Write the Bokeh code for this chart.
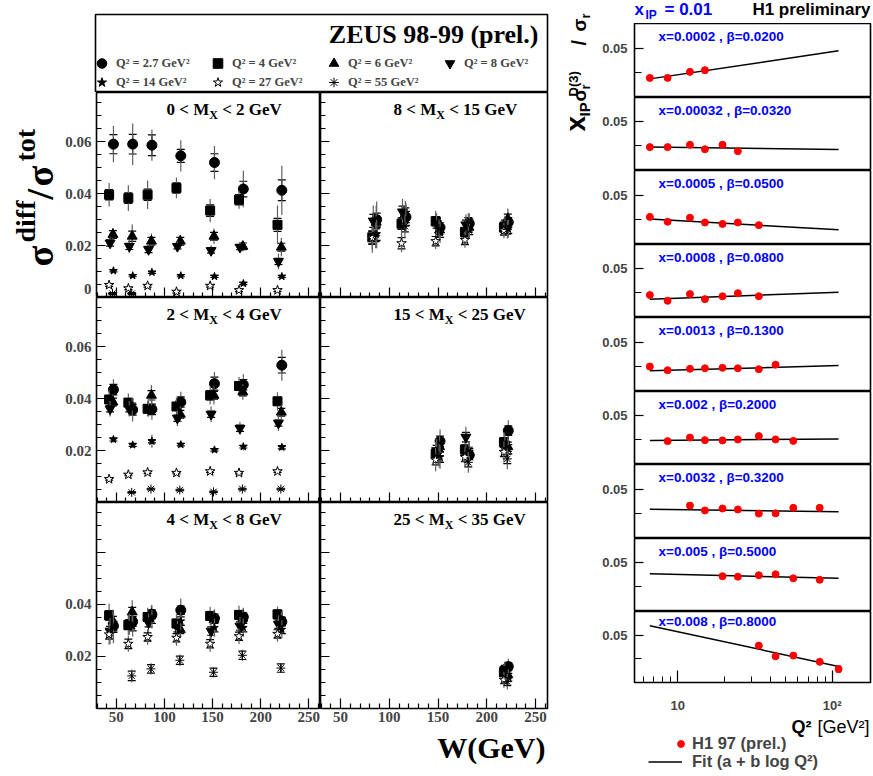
import math
from bokeh.plotting import figure
from bokeh.layouts import row, column
from bokeh.models import (ColumnDataSource, Whisker, TeeHead, Label, Legend, LegendItem,
                          FixedTicker, Range1d, LinearAxis)
from bokeh.embed import file_html
from bokeh.resources import INLINE

# ---------------- ZEUS 98-99 (prel.): sigma_diff / sigma_tot versus W ----------------
W_BINS = [45, 65, 85, 115, 150, 180, 220]                 # GeV
Q2_VALUES = ["2.7", "4", "6", "8", "14", "27", "55"]      # GeV^2
MX_RANGES = [(0, 2), (8, 15), (2, 4), (15, 25), (4, 8), (25, 35)]   # panel order

RATIO_MX_0_2 = {
    "2.7": [0.0591, 0.0591, 0.0587, 0.0546, 0.0520, 0.0418, 0.0413],
    "4":   [0.0396, 0.0383, 0.0396, 0.0422, 0.0335, 0.0377, 0.0280],
    "6":   [0.0243, 0.0236, 0.0217, 0.0217, 0.0236, 0.0197, 0.0194],
    "8":   [0.0210, 0.0197, 0.0185, 0.0197, 0.0181, 0.0194, 0.0139],
    "14":  [0.0103, 0.0084, 0.0097, 0.0084, 0.0081, 0.0054, 0.0081],
    "27":  [0.0048, 0.0035, 0.0045, 0.0022, 0.0045, 0.0028, 0.0028],
    "55":  [0.0015, 0.0015, None, None, None, None, None],
}
STAT_MX_0_2 = {
    "2.7": [0.0037, 0.0038, 0.0040, 0.0025, 0.0034, 0.0030, 0.0040],
    "4":   [0.0020, 0.0020, 0.0022, 0.0020, 0.0022, 0.0020, 0.0025],
    "6":   [0.0015, 0.0020, 0.0015, 0.0015, 0.0015, 0.0013, 0.0015],
    "8":   [0.0012, 0.0012, 0.0012, 0.0010, 0.0010, 0.0010, 0.0012],
    "14":  [0.0004, 0.0004, 0.0004, 0.0004, 0.0004, 0.0004, 0.0004],
    "27":  [0.0005, 0.0005, 0.0005, 0.0005, 0.0005, 0.0005, 0.0005],
    "55":  [0.0004, 0.0004, None, None, None, None, None],
}
TOTAL_MX_0_2 = {
    "2.7": [0.0070, 0.0080, 0.0060, 0.0060, 0.0064, 0.0070, 0.0095],
    "4":   [0.0045, 0.0050, 0.0055, 0.0040, 0.0045, 0.0035, 0.0075],
    "6":   [0.0025, 0.0045, 0.0030, 0.0025, 0.0030, 0.0020, 0.0035],
    "8":   [0.0020, 0.0025, 0.0020, 0.0020, 0.0020, 0.0020, 0.0030],
    "14":  [0.0007, 0.0007, 0.0007, 0.0007, 0.0007, 0.0007, 0.0007],
    "27":  [0.0009, 0.0009, 0.0009, 0.0009, 0.0009, 0.0009, 0.0009],
    "55":  [0.0006, 0.0006, None, None, None, None, None],
}

RATIO_MX_8_15 = {
    "2.7": [None, None, 0.0300, 0.0310, 0.0270, 0.0285, 0.0290],
    "4":   [None, None, 0.0232, 0.0284, 0.0294, 0.0252, 0.0270],
    "6":   [None, None, 0.0290, 0.0323, 0.0260, 0.0270, 0.0303],
    "8":   [None, None, 0.0295, 0.0330, 0.0285, 0.0280, 0.0280],
    "14":  [None, None, 0.0245, 0.0300, 0.0250, 0.0260, 0.0265],
    "27":  [None, None, 0.0230, 0.0209, 0.0217, 0.0222, 0.0258],
    "55":  [None, None, 0.0240, 0.0275, 0.0265, 0.0290, 0.0262],
}
STAT_MX_8_15 = {k: [None, None, 0.0025, 0.0022, 0.0018, 0.0018, 0.0018] for k in Q2_VALUES}
TOTAL_MX_8_15 = {
    "2.7": [None, None, 0.0070, 0.0055, 0.0040, 0.0040, 0.0040],
    "4":   [None, None, 0.0060, 0.0055, 0.0040, 0.0040, 0.0035],
    "6":   [None, None, 0.0065, 0.0050, 0.0040, 0.0040, 0.0040],
    "8":   [None, None, 0.0060, 0.0050, 0.0040, 0.0040, 0.0035],
    "14":  [None, None, 0.0055, 0.0050, 0.0040, 0.0035, 0.0035],
    "27":  [None, None, 0.0045, 0.0035, 0.0030, 0.0030, 0.0030],
    "55":  [None, None, 0.0050, 0.0045, 0.0035, 0.0035, 0.0035],
}

RATIO_MX_2_4 = {
    "2.7": [0.0435, 0.0357, 0.0359, 0.0387, 0.0458, 0.0454, 0.0529],
    "4":   [0.0397, 0.0385, 0.0361, 0.0370, 0.0413, 0.0449, 0.0390],
    "6":   [0.0387, 0.0368, 0.0413, 0.0340, 0.0413, 0.0426, 0.0348],
    "8":   [0.0361, 0.0361, 0.0361, 0.0325, 0.0340, 0.0286, 0.0306],
    "14":  [0.0243, 0.0222, 0.0236, 0.0223, 0.0203, 0.0215, 0.0213],
    "27":  [0.0090, 0.0107, 0.0116, 0.0114, 0.0120, 0.0114, 0.0120],
    "55":  [None, 0.0039, 0.0052, 0.0048, 0.0041, 0.0052, 0.0052],
}
STAT_MX_2_4 = {
    "2.7": [0.0020, 0.0020, 0.0020, 0.0020, 0.0025, 0.0020, 0.0030],
    "4":   [0.0015, 0.0015, 0.0015, 0.0015, 0.0018, 0.0015, 0.0015],
    "6":   [0.0015, 0.0015, 0.0018, 0.0015, 0.0015, 0.0015, 0.0015],
    "8":   [0.0012, 0.0012, 0.0012, 0.0012, 0.0012, 0.0012, 0.0012],
    "14":  [0.0006, 0.0006, 0.0006, 0.0005, 0.0005, 0.0005, 0.0006],
    "27":  [0.0004, 0.0004, 0.0004, 0.0004, 0.0004, 0.0004, 0.0004],
    "55":  [None, 0.0003, 0.0003, 0.0003, 0.0003, 0.0003, 0.0003],
}
TOTAL_MX_2_4 = {
    "2.7": [0.0040, 0.0045, 0.0040, 0.0040, 0.0045, 0.0040, 0.0060],
    "4":   [0.0035, 0.0035, 0.0030, 0.0035, 0.0035, 0.0035, 0.0035],
    "6":   [0.0030, 0.0035, 0.0040, 0.0030, 0.0035, 0.0030, 0.0030],
    "8":   [0.0030, 0.0030, 0.0030, 0.0030, 0.0030, 0.0025, 0.0030],
    "14":  [0.0012, 0.0012, 0.0025, 0.0010, 0.0010, 0.0015, 0.0012],
    "27":  [0.0008, 0.0010, 0.0010, 0.0008, 0.0008, 0.0008, 0.0008],
    "55":  [None, 0.0005, 0.0005, 0.0005, 0.0005, 0.0005, 0.0005],
}

RATIO_MX_15_25 = {
    "2.7": [None, None, None, None, 0.0236, 0.0183, 0.0277],
    "4":   [None, None, None, None, 0.0187, 0.0204, 0.0232],
    "6":   [None, None, None, None, 0.0215, 0.0195, 0.0215],
    "8":   [None, None, None, None, 0.0200, 0.0252, 0.0225],
    "14":  [None, None, None, None, 0.0175, 0.0190, 0.0205],
    "27":  [None, None, None, None, 0.0165, 0.0175, 0.0195],
    "55":  [None, None, None, None, 0.0180, 0.0155, 0.0168],
}
STAT_MX_15_25 = {k: [None, None, None, None, 0.0020, 0.0018, 0.0018] for k in Q2_VALUES}
TOTAL_MX_15_25 = {k: [None, None, None, None, 0.0045, 0.0040, 0.0040] for k in Q2_VALUES}

RATIO_MX_4_8 = {
    "2.7": [0.0316, 0.0333, 0.0361, 0.0377, 0.0346, 0.0351, 0.0333],
    "4":   [0.0357, 0.0320, 0.0351, 0.0326, 0.0355, 0.0359, 0.0361],
    "6":   [0.0335, 0.0370, 0.0361, 0.0303, 0.0342, 0.0346, 0.0335],
    "8":   [0.0297, 0.0323, 0.0329, 0.0310, 0.0297, 0.0316, 0.0323],
    "14":  [0.0310, 0.0316, 0.0342, 0.0335, 0.0310, 0.0310, 0.0303],
    "27":  [0.0284, 0.0248, 0.0274, 0.0271, 0.0248, 0.0277, 0.0286],
    "55":  [None, 0.0125, 0.0152, 0.0185, 0.0139, 0.0204, 0.0155],
}
STAT_MX_4_8 = {k: [0.0018, 0.0018, 0.0016, 0.0016, 0.0016, 0.0016, 0.0016] for k in Q2_VALUES}
TOTAL_MX_4_8 = {
    "2.7": [0.0050, 0.0040, 0.0035, 0.0045, 0.0035, 0.0035, 0.0035],
    "4":   [0.0045, 0.0040, 0.0035, 0.0035, 0.0035, 0.0035, 0.0030],
    "6":   [0.0045, 0.0045, 0.0035, 0.0035, 0.0035, 0.0035, 0.0035],
    "8":   [0.0050, 0.0040, 0.0035, 0.0035, 0.0035, 0.0035, 0.0035],
    "14":  [0.0060, 0.0040, 0.0035, 0.0035, 0.0035, 0.0035, 0.0035],
    "27":  [0.0040, 0.0030, 0.0030, 0.0030, 0.0030, 0.0030, 0.0030],
    "55":  [None, 0.0025, 0.0022, 0.0022, 0.0020, 0.0022, 0.0018],
}

RATIO_MX_25_35 = {
    "2.7": [None, None, None, None, None, None, 0.0161],
    "4":   [None, None, None, None, None, None, 0.0139],
    "6":   [None, None, None, None, None, None, 0.0129],
    "8":   [None, None, None, None, None, None, 0.0150],
    "14":  [None, None, None, None, None, None, 0.0120],
    "27":  [None, None, None, None, None, None, 0.0110],
    "55":  [None, None, None, None, None, None, 0.0103],
}
STAT_MX_25_35 = {k: [None, None, None, None, None, None, 0.0015] for k in Q2_VALUES}
TOTAL_MX_25_35 = {k: [None, None, None, None, None, None, 0.0030] for k in Q2_VALUES}

ZEUS_PANELS = [
    (RATIO_MX_0_2, STAT_MX_0_2, TOTAL_MX_0_2),
    (RATIO_MX_8_15, STAT_MX_8_15, TOTAL_MX_8_15),
    (RATIO_MX_2_4, STAT_MX_2_4, TOTAL_MX_2_4),
    (RATIO_MX_15_25, STAT_MX_15_25, TOTAL_MX_15_25),
    (RATIO_MX_4_8, STAT_MX_4_8, TOTAL_MX_4_8),
    (RATIO_MX_25_35, STAT_MX_25_35, TOTAL_MX_25_35),
]
ZEUS_W_MAJOR = [50, 100, 150, 200, 250]
ZEUS_W_MINOR = [w for w in range(30, 261, 10) if w % 50]
ZEUS_R_TOP = 0.079
ZEUS_R_MAJOR = [0, 0.02, 0.04, 0.06]
ZEUS_R_MINOR = [round(0.005 * k, 3) for k in range(1, 16) if k % 4]
# labelled positions per row (the "0" sits just inside the panel so it is not cut)
ZEUS_R_LABELS = [
    {0.0034: "0", 0.02: "0.02", 0.04: "0.04", 0.06: "0.06"},
    {0.02: "0.02", 0.04: "0.04", 0.06: "0.06"},
    {0.02: "0.02", 0.04: "0.04"},
]

# ---------------- H1 97 (prel.): x_IP sigma_r^D(3) / sigma_r at x_IP = 0.01 ----------------
H1_Q2 = [6.6, 8.6, 12, 15, 19.5, 24.5, 33.5, 43, 56, 83, 110]   # GeV^2
H1_X = ["0.0002", "0.00032", "0.0005", "0.0008", "0.0013", "0.002", "0.0032", "0.005", "0.008"]
H1_BETA = ["0.0200", "0.0320", "0.0500", "0.0800", "0.1300", "0.2000", "0.3200", "0.5000", "0.8000"]
H1_FIRST_BIN = [0, 0, 0, 0, 0, 1, 2, 4, 6]
H1_RATIO = [
    [0.0377, 0.0377, 0.0402, 0.0409],
    [0.0394, 0.0394, 0.0404, 0.0385, 0.0404, 0.0377],
    [0.0410, 0.0390, 0.0407, 0.0387, 0.0381, 0.0387, 0.0376],
    [0.0390, 0.0366, 0.0394, 0.0373, 0.0385, 0.0398, 0.0385],
    [0.0399, 0.0384, 0.0390, 0.0392, 0.0394, 0.0392, 0.0388, 0.0407],
    [0.0394, 0.0409, 0.0398, 0.0397, 0.0401, 0.0415, 0.0401, 0.0395],
    [0.0432, 0.0412, 0.0420, 0.0416, 0.0399, 0.0400, 0.0423, 0.0423],
    [0.0444, 0.0442, 0.0448, 0.0452, 0.0435, 0.0429],
    [0.0455, 0.0409, 0.0412, 0.0385, 0.0354],
]
H1_ERR = [
    [0.0005, 0.0005, 0.0008, 0.0010],
    [0.0005, 0.0005, 0.0006, 0.0004, 0.0004, 0.0008],
    [0.0008, 0.0004, 0.0007, 0.0004, 0.0004, 0.0004, 0.0007],
    [0.0004, 0.0004, 0.0006, 0.0004, 0.0004, 0.0005, 0.0004],
    [0.0010, 0.0004, 0.0005, 0.0004, 0.0004, 0.0004, 0.0004, 0.0004],
    [0.0006, 0.0008, 0.0004, 0.0004, 0.0004, 0.0005, 0.0004, 0.0004],
    [0.0011, 0.0004, 0.0005, 0.0004, 0.0004, 0.0006, 0.0005, 0.0008],
    [0.0008, 0.0005, 0.0007, 0.0008, 0.0008, 0.0008],
    [0.0009, 0.0008, 0.0008, 0.0007, 0.0013],
]
H1_FIT_Q2 = [6.6, 110]
H1_FIT_START = [0.0373, 0.0394, 0.0401, 0.0373, 0.0382, 0.0397, 0.0417, 0.0454, 0.0541]
H1_FIT_END = [0.0489, 0.0384, 0.0357, 0.0402, 0.0403, 0.0403, 0.0407, 0.0435, 0.0365]
H1_MAJOR_Q2_TICKS = [10, 100]
H1_MINOR_Q2_TICKS = [6, 7, 8, 9, 20, 30, 40, 50, 60, 70, 80, 90]

# ---------------- styling ----------------
SERIF = "Liberation Serif"
SANS = "Liberation Sans"
NAN = float("nan")
MID = 0.3375     # offset (in em) from the text's vertical middle down to its baseline
ZEUS_STYLE = {   # marker, fill, size, horizontal dodge (GeV)
    "2.7": ("circle", "black", 10, 2.0),
    "4": ("square", "black", 9, -2.5),
    "6": ("triangle", "black", 10, 1.5),
    "8": ("inverted_triangle", "black", 10, -1.5),
    "14": ("star", "black", 8, 2.0),
    "27": ("star", "white", 10, -2.5),
    "55": ("asterisk", "black", 9, 1.0),
}
TIMES_B = {' ': 250, '<': 570, 'M': 944, 'X': 722, 'G': 778, 'e': 444, 'V': 722}
ARIAL_B = {' ': 278, '[': 333, ']': 333, 'G': 778, 'e': 556, 'V': 667, '²': 333}


def tw(s, size, table):
    return sum(table.get(c, 500 if table is TIMES_B else 556) for c in s) * size / 1000.0


def label(p, x, y, text, size, font, color="black", style="bold", align="left", angle=0.0):
    """(x, y): start of the text's baseline, in px from the frame's bottom-left corner."""
    if angle:
        x -= MID * size
    else:
        y += MID * size
    p.add_layout(Label(x=x, y=y, x_units="screen", y_units="screen", text=text,
                       text_font=font, text_font_size=f"{size}px", text_font_style=style,
                       text_color=color, text_align=align, text_baseline="middle",
                       angle=angle))


def text_strip(width, height, left=0, right=0):
    s = figure(width=width, height=height, min_border=0, min_border_left=left,
               min_border_right=right, x_range=Range1d(0, 1),
               y_range=Range1d(0, 1), x_axis_location=None, y_axis_location=None,
               output_backend="svg", toolbar_location=None)
    s.grid.visible = False
    s.outline_line_color = None
    return s


def plain_axis(minor, tick_len):
    ax = LinearAxis(ticker=FixedTicker(ticks=[], minor_ticks=minor))
    ax.axis_line_color = None
    ax.major_tick_out = 0
    ax.minor_tick_out = 0
    ax.major_tick_in = 0
    ax.minor_tick_in = tick_len
    ax.minor_tick_line_width = 1.2
    ax.major_label_standoff = 0
    return ax


def add_ticks(p, side, labels, major, minor, major_len, minor_len, font, size, standoff):
    """Tick marks from two label-free axes, tick labels from a third axis without marks."""
    p.add_layout(plain_axis(minor, minor_len), side)
    p.add_layout(plain_axis(major, major_len), side)
    if labels:
        ax = LinearAxis(ticker=FixedTicker(ticks=list(labels), minor_ticks=[]))
        ax.axis_line_color = None
        ax.major_tick_out = 0
        ax.minor_tick_out = 0
        ax.major_tick_in = 0
        ax.major_tick_line_color = None
        ax.major_label_text_font = font
        ax.major_label_text_font_style = "bold"
        ax.major_label_text_font_size = f"{size}px"
        ax.major_label_standoff = standoff
        ax.major_label_overrides = dict(labels)
        p.add_layout(ax, side)


def style_h1_axis(ax, tick_in, minor_in, standoff):
    ax.axis_line_color = None
    ax.major_tick_out = 0
    ax.minor_tick_out = 0
    ax.major_tick_in = tick_in
    ax.minor_tick_in = minor_in
    ax.major_tick_line_width = 1.2
    ax.minor_tick_line_width = 1.0
    ax.major_label_text_font = SANS
    ax.major_label_text_font_style = "bold"
    ax.major_label_text_font_size = "13px"
    ax.major_label_standoff = standoff


# ---------------- ZEUS block ----------------
ZL = 33          # left border of the ZEUS frames (tick labels)
# strip left of the ZEUS panels: y title sigma^diff / sigma^tot (reads bottom to top)
zstrip = text_strip(62, 776)
for text, size, bx, page_y in [("σ", 38, 52, 266), ("diff", 28, 34, 242), ("/", 38, 52, 199),
                               ("σ", 38, 52, 186), ("tot", 28, 34, 161)]:
    label(zstrip, bx, 776 - page_y, text, size, SERIF, angle=math.pi / 2)

header = figure(width=490, height=92, min_border_left=ZL, min_border_right=5,
                min_border_top=14, min_border_bottom=0, x_range=Range1d(0, 1),
                y_range=Range1d(0, 1), x_axis_location=None, y_axis_location=None,
                output_backend="svg", toolbar_location=None)
header.grid.visible = False
header.outline_line_color = "black"
header.outline_line_width = 1.6
label(header, 443, 49, "ZEUS 98-99 (prel.)", 26, SERIF, align="right")

legend_items = []
for q in Q2_VALUES:
    mk, fill, size, dx = ZEUS_STYLE[q]
    r = header.scatter(x=[NAN], y=[NAN], marker=mk, size=size, fill_color=fill,
                       line_color="black")
    legend_items.append(LegendItem(label=f"Q² = {q} GeV²", renderers=[r]))
for items, ypos in ((legend_items[:4], 17), (legend_items[4:], -2)):
    header.add_layout(Legend(items=items, location=(-6, ypos), orientation="horizontal",
                             glyph_width=25, glyph_height=24, label_width=82, label_standoff=2,
                             spacing=7, padding=0, margin=0, border_line_color=None,
                             background_fill_alpha=0, label_text_font=SERIF,
                             label_text_font_style="bold", label_text_font_size="12.5px"))

zeus_figs = []
for k, (ratio, stat, total) in enumerate(ZEUS_PANELS):
    col, rw = k % 2, k // 2
    fh = 205 if rw < 2 else 206
    bot = 0 if rw < 2 else 22
    if col == 0:
        w, ml, mr = 258, ZL, 0
    else:
        w, ml, mr = 232, 0, 5
    p = figure(width=w, height=fh + bot, min_border_left=ml, min_border_right=mr,
               min_border_top=0, min_border_bottom=bot,
               x_range=Range1d(29.4, 262.2), y_range=Range1d(0, ZEUS_R_TOP),
               x_axis_location=None, y_axis_location=None,
               output_backend="svg", toolbar_location=None)
    p.grid.visible = False
    p.outline_line_color = "black"
    p.outline_line_width = 1.6

    xlabels = {v: str(v) for v in ZEUS_W_MAJOR} if rw == 2 else {}
    add_ticks(p, "below", xlabels, ZEUS_W_MAJOR, ZEUS_W_MINOR, 10, 5, SERIF, 15, 3)
    ylabels = ZEUS_R_LABELS[rw] if col == 0 else {}
    add_ticks(p, "left", ylabels, ZEUS_R_MAJOR, ZEUS_R_MINOR, 9, 5, SERIF, 15, 5)

    for q in Q2_VALUES:
        mk, fill, size, dx = ZEUS_STYLE[q]
        d = dict(x=[], y=[], slo=[], shi=[], tlo=[], thi=[])
        for i, v in enumerate(ratio[q]):
            if v is None:
                continue
            d["x"].append(W_BINS[i] + dx)
            d["y"].append(v)
            d["slo"].append(v - stat[q][i])
            d["shi"].append(v + stat[q][i])
            d["tlo"].append(v - total[q][i])
            d["thi"].append(v + total[q][i])
        src = ColumnDataSource(d)
        p.segment("x", "tlo", "x", "thi", source=src, line_color="#606060", line_width=1.2)
        p.add_layout(Whisker(source=src, base="x", lower="slo", upper="shi",
                             line_color="black", line_width=1.2,
                             upper_head=TeeHead(size=8, line_color="black", line_width=1.2),
                             lower_head=TeeHead(size=8, line_color="black", line_width=1.2)))
        p.scatter("x", "y", source=src, marker=mk, size=size, fill_color=fill,
                  line_color="black", line_width=1)

    lo, hi = MX_RANGES[k]
    x0 = 70 if col == 0 else 73
    y0 = fh - 23
    a, b, c = f"{lo} < M", "X", f"< {hi} GeV"
    wa = tw(a, 17, TIMES_B)
    wb = tw(b, 12, TIMES_B)
    label(p, x0, y0, a, 17, SERIF)
    label(p, x0 + wa, y0 - 4, b, 12, SERIF)
    label(p, x0 + wa + wb + tw(" ", 17, TIMES_B), y0, c, 17, SERIF)
    zeus_figs.append(p)

# strip under the ZEUS panels (its frame is aligned with the panels' frames)
wstrip = text_strip(490, 46, left=ZL, right=5)
label(wstrip, 450, 19, "W(GeV)", 30, SERIF, align="right")

left_block = row(zstrip, column(header, row(zeus_figs[0], zeus_figs[1]),
                                row(zeus_figs[2], zeus_figs[3]),
                                row(zeus_figs[4], zeus_figs[5]), wstrip))

# ---------------- H1 block ----------------
ystrip = text_strip(43, 776)
# (text, font px, baseline x in strip, page y where the text starts, reading upward)
for text, size, bx, page_y in [("x", 28, 32, 131), ("IP", 15, 37, 116), ("σ", 19, 33, 101),
                               ("r", 13, 37, 89), ("D(3)", 13, 25, 96), ("/", 20, 33, 45),
                               ("σ", 19, 33, 31), ("r", 13, 37, 18)]:
    label(ystrip, bx, 776 - page_y, text, size, SANS, angle=math.pi / 2)

top_strip = text_strip(278, 23, left=39, right=3)
label(top_strip, 0, 8, "x", 17, SANS, color="#0000ff")
label(top_strip, 11, 4, "IP", 12, SANS, color="#0000ff")
label(top_strip, 30, 8, "= 0.01", 17, SANS, color="#0000ff")
label(top_strip, 236, 8, "H1 preliminary", 17, SANS, align="right")

H1_FRAMES = [74, 73, 74, 73, 74, 73, 74, 73, 74]
h1_figs = []
for i in range(9):
    fh = H1_FRAMES[i]
    bot = 30 if i == 8 else 0
    p = figure(width=278, height=fh + bot, min_border_left=39, min_border_right=3,
               min_border_top=0, min_border_bottom=bot, x_axis_type="log",
               x_range=Range1d(5.25, 177), y_range=Range1d(0.0296, 0.0602),
               x_axis_location="below" if i == 8 else None,
               output_backend="svg", toolbar_location=None)
    p.grid.visible = False
    p.outline_line_color = "black"
    p.outline_line_width = 1.6
    p.yaxis.ticker = FixedTicker(ticks=[0.05], minor_ticks=[0.04])
    style_h1_axis(p.yaxis[0], 9, 7, 7)

    n = len(H1_RATIO[i])
    f0 = H1_FIRST_BIN[i]
    ys = H1_RATIO[i]
    es = H1_ERR[i]
    src = ColumnDataSource(dict(x=H1_Q2[f0:f0 + n], y=ys,
                                lo=[v - e for v, e in zip(ys, es)],
                                hi=[v + e for v, e in zip(ys, es)]))
    p.line(x=H1_FIT_Q2, y=[H1_FIT_START[i], H1_FIT_END[i]], line_color="black", line_width=1.5)
    p.add_layout(Whisker(source=src, base="x", lower="lo", upper="hi", line_color="red",
                         line_width=1.2,
                         upper_head=TeeHead(size=5, line_color="red", line_width=1.2),
                         lower_head=TeeHead(size=5, line_color="red", line_width=1.2)))
    p.scatter("x", "y", source=src, marker="circle", size=7, fill_color="red", line_color="red")
    label(p, 24, fh - 18, f"x={H1_X[i]} , β={H1_BETA[i]}", 13.5, SANS, color="#0000ff")

    if i == 8:
        p.xaxis.ticker = FixedTicker(ticks=H1_MAJOR_Q2_TICKS, minor_ticks=H1_MINOR_Q2_TICKS)
        style_h1_axis(p.xaxis[0], 12, 6, 15)
        p.xaxis.major_label_overrides = {10: "10", 100: "10²"}
    h1_figs.append(p)

# strip under the H1 panels (frame aligned with the panels' frames)
bottom_strip = text_strip(278, 61, left=39, right=3)
wq = tw("[GeV²]", 18, ARIAL_B)
label(bottom_strip, 235, 43, "[GeV²]", 18, SANS, style="normal", align="right")
label(bottom_strip, 235 - wq - 4, 43, "Q²", 18, SANS, align="right")
dot = bottom_strip.scatter(x=[NAN], y=[NAN], marker="circle", size=7, fill_color="red",
                           line_color="red")
fline = bottom_strip.line(x=[NAN, NAN], y=[NAN, NAN], line_color="black", line_width=1.5)
LEG_STYLE = dict(orientation="vertical", glyph_height=17, label_height=18, spacing=0,
                 padding=0, margin=0, border_line_color=None, background_fill_alpha=0,
                 label_text_font=SANS, label_text_font_style="bold",
                 label_text_font_size="16.5px")
bottom_strip.add_layout(Legend(items=[LegendItem(label="H1 97 (prel.)", renderers=[dot])],
                               location=(38, 23), glyph_width=17, label_standoff=3,
                               **LEG_STYLE))
bottom_strip.add_layout(Legend(items=[LegendItem(label="Fit (a + b log Q²)",
                                                 renderers=[fline])],
                               location=(14, 5), glyph_width=34, label_standoff=10,
                               **LEG_STYLE))

right_block = row(ystrip, column(top_strip, *h1_figs, bottom_strip))
layout = row(left_block, right_block)

open("out.html", "w").write(file_html(layout, INLINE))
